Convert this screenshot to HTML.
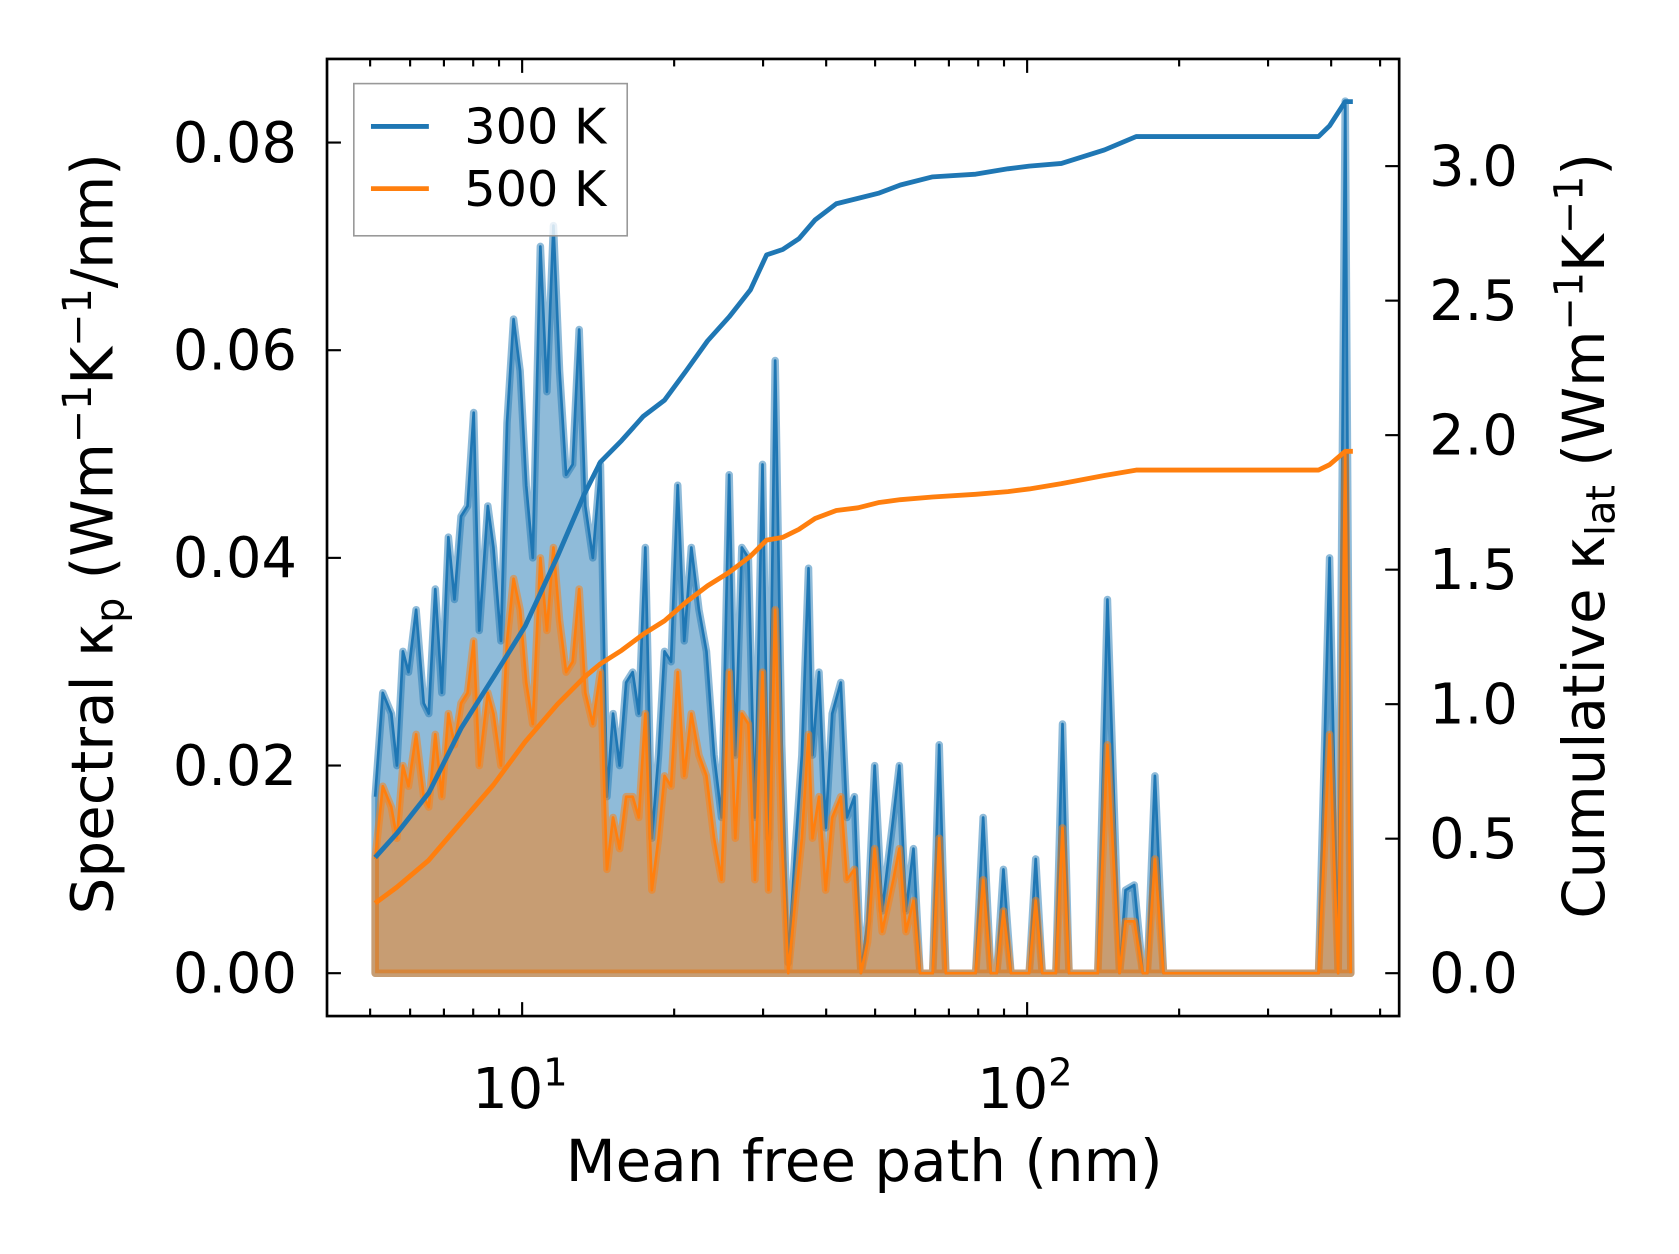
<!DOCTYPE html>
<html><head><meta charset="utf-8"><style>
html,body{margin:0;padding:0;background:#fff;}
svg{display:block;font-family:"DejaVu Sans","Liberation Sans",sans-serif;}
</style></head><body>
<svg id="chart" width="1679" height="1254" viewBox="0 0 1566 1170" preserveAspectRatio="none" xmlns="http://www.w3.org/2000/svg">
<g id="plot"></g>
<g id="axes"></g>
</svg>
<script>
const specLogMfp=[0.709,0.724,0.741,0.752,0.764,0.775,0.790,0.805,0.815,0.828,0.841,0.854,0.866,0.879,0.892,0.904,0.915,0.932,0.943,0.958,0.970,0.983,0.996,1.008,1.021,1.036,1.049,1.062,1.074,1.087,1.100,1.113,1.125,1.140,1.155,1.168,1.180,1.193,1.206,1.219,1.231,1.244,1.257,1.270,1.282,1.295,1.308,1.321,1.335,1.350,1.365,1.380,1.395,1.410,1.422,1.435,1.448,1.461,1.476,1.488,1.501,1.514,1.527,1.541,1.554,1.567,1.575,1.588,1.601,1.614,1.631,1.643,1.658,1.671,1.684,1.698,1.713,1.735,1.747,1.760,1.775,1.788,1.813,1.826,1.839,1.898,1.913,1.928,1.940,1.953,1.968,2.004,2.017,2.030,2.057,2.070,2.083,2.140,2.159,2.183,2.195,2.212,2.229,2.238,2.253,2.270,2.577,2.599,2.616,2.630,2.641];
const spec300=[.017,.027,.025,.020,.031,.029,.035,.026,.025,.037,.027,.042,.036,.044,.045,.054,.033,.045,.041,.032,.053,.063,.058,.047,.040,.070,.056,.072,.058,.048,.049,.062,.045,.040,.049,.017,.025,.020,.028,.029,.025,.041,.013,.021,.031,.030,.047,.032,.041,.035,.031,.021,.015,.048,.021,.041,.040,.015,.049,.013,.059,.022,.001,.012,.021,.039,.021,.029,.014,.025,.028,.015,.017,0,.005,.020,.006,.015,.020,.006,.012,0,0,.022,0,0,.015,0,0,.010,0,0,.011,0,0,.024,0,0,.036,0,.008,.0085,0,0,.019,0,0,.040,0,.084,0];
const spec500=[.011,.018,.016,.013,.020,.018,.023,.017,.016,.023,.017,.025,.022,.026,.027,.032,.020,.027,.025,.020,.032,.038,.035,.028,.024,.040,.033,.041,.034,.029,.030,.037,.027,.024,.029,.010,.015,.012,.017,.017,.015,.025,.008,.013,.019,.018,.029,.019,.025,.021,.019,.013,.009,.029,.013,.025,.024,.009,.029,.008,.035,.013,0,.007,.013,.023,.013,.017,.008,.015,.017,.009,.010,0,.003,.012,.004,.009,.012,.004,.007,0,0,.013,0,0,.009,0,0,.006,0,0,.007,0,0,.014,0,0,.022,0,.005,.005,0,0,.011,0,0,.023,0,.050,0];
const cumLogMfp=[0.709,0.752,0.815,0.879,0.943,1.006,1.070,1.123,1.155,1.197,1.240,1.282,1.325,1.367,1.410,1.452,1.484,1.516,1.548,1.580,1.622,1.665,1.707,1.749,1.813,1.898,1.962,2.004,2.068,2.153,2.216,2.577,2.599,2.630,2.645];
const cum300=[.43,.52,.67,.91,1.10,1.29,1.55,1.78,1.90,1.98,2.07,2.13,2.24,2.35,2.44,2.54,2.67,2.69,2.73,2.80,2.86,2.88,2.90,2.93,2.96,2.97,2.99,3.00,3.01,3.06,3.11,3.11,3.15,3.24,3.24];
const cum500=[.26,.32,.42,.56,.70,.86,1.00,1.10,1.15,1.20,1.26,1.31,1.38,1.44,1.49,1.55,1.61,1.62,1.65,1.69,1.72,1.73,1.75,1.76,1.77,1.78,1.79,1.80,1.82,1.85,1.87,1.87,1.89,1.94,1.94];
const leftTicks=[0,0.02,0.04,0.06,0.08];
const leftTickLabels=["0.00","0.02","0.04","0.06","0.08"];
const rightTicks=[0,0.5,1,1.5,2,2.5,3];
const rightTickLabels=["0.0","0.5","1.0","1.5","2.0","2.5","3.0"];

const NS="http://www.w3.org/2000/svg";
const AX={l:305,r:1305,t:55,b:948};
const xs=L=>487+(L-1)*471;
const yl=v=>908-v*9687.5;
const yr=v=>908-v*251;
const plot=document.getElementById('plot'), axes=document.getElementById('axes');
function mk(tag,attrs,parent){const e=document.createElementNS(NS,tag);for(const k in attrs)e.setAttribute(k,attrs[k]);parent.appendChild(e);return e;}
function pathOf(X,Y,fx,fy){return X.map((x,i)=>(i?'L':'M')+fx(x).toFixed(1)+','+fy(Y[i]).toFixed(1)).join('');}

function spectral(vals,color,name){
  const line=pathOf(specLogMfp,vals,xs,yl);
  const area=line+'L'+xs(specLogMfp[specLogMfp.length-1]).toFixed(1)+','+yl(0)+'L'+xs(specLogMfp[0]).toFixed(1)+','+yl(0)+'Z';
  const a=mk('path',{d:area,fill:color,'fill-opacity':0.5,stroke:color,'stroke-opacity':0.5,'stroke-width':7,'stroke-linejoin':'round'},plot);
  
  
  const l=mk('path',{d:line,fill:'none',stroke:color,'stroke-width':2.5,'stroke-linejoin':'round'},plot);
  
  
}
spectral(spec300,'#1f77b4','spectral-300k');
spectral(spec500,'#ff7f0e','spectral-500k');
const c3=mk('path',{d:pathOf(cumLogMfp,cum300,xs,yr),fill:'none',stroke:'#1f77b4','stroke-width':4.5,'stroke-linejoin':'round'},plot);


const c5=mk('path',{d:pathOf(cumLogMfp,cum500,xs,yr),fill:'none',stroke:'#ff7f0e','stroke-width':4.5,'stroke-linejoin':'round'},plot);



const fr=mk('rect',{x:AX.l,y:AX.t,width:AX.r-AX.l,height:AX.b-AX.t,fill:'none',stroke:'#000','stroke-width':2.5},axes);


for(let d=0;d<=2;d++){for(let m=1;m<=9;m++){const L=d+Math.log10(m);if(L<0.65||L>2.7)continue;const x=xs(L);const len=(m===1)?13:7;
  const t1=mk('line',{x1:x,x2:x,y1:AX.b,y2:AX.b-len,stroke:'#000','stroke-width':2},axes);
  
  
  const t2=mk('line',{x1:x,x2:x,y1:AX.t,y2:AX.t+len,stroke:'#000','stroke-width':2},axes);
  
  
  if(m===1){const tx=mk('text',{x:x-2,y:1034,'font-size':52,'text-anchor':'middle'},axes);tx.innerHTML='10<tspan dy="-21" font-size="36">'+d+'</tspan>';
    
    }
}}
leftTicks.forEach((v,i)=>{const y=yl(v);
  const t=mk('line',{x1:AX.l,x2:AX.l+13,y1:y,y2:y,stroke:'#000','stroke-width':2},axes);
  
  
  const tx=mk('text',{x:277,y:y+18,'font-size':52,'text-anchor':'end'},axes);tx.textContent=leftTickLabels[i];
  
  
});
rightTicks.forEach((v,i)=>{const y=yr(v);
  const t=mk('line',{x1:AX.r,x2:AX.r-13,y1:y,y2:y,stroke:'#000','stroke-width':2},axes);
  
  
  const tx=mk('text',{x:1333,y:y+18,'font-size':52,'text-anchor':'start'},axes);tx.textContent=rightTickLabels[i];
  
  
});
</script>
<svg style="position:absolute;left:0;top:0" width="1679" height="1254" viewBox="0 0 1566 1170" preserveAspectRatio="none" xmlns="http://www.w3.org/2000/svg" font-family="DejaVu Sans, Liberation Sans, sans-serif">
<text x="806" y="1102" font-size="54" text-anchor="middle">Mean free path (nm)</text>
<text transform="translate(105,498) rotate(-90)" font-size="54" text-anchor="middle">Spectral κ<tspan font-size="37" dy="10">p</tspan><tspan dy="-10"> (Wm</tspan><tspan font-size="37" dy="-20">−1</tspan><tspan dy="20">K</tspan><tspan font-size="37" dy="-20">−1</tspan><tspan dy="20">/nm)</tspan></text>
<text transform="translate(1496,500) rotate(-90)" font-size="54" text-anchor="middle">Cumulative κ<tspan font-size="37" dy="10">lat</tspan><tspan dy="-10"> (Wm</tspan><tspan font-size="37" dy="-20">−1</tspan><tspan dy="20">K</tspan><tspan font-size="37" dy="-20">−1</tspan><tspan dy="20">)</tspan></text>
<g>
<rect x="330" y="78" width="255" height="142" fill="#fff" fill-opacity="0.8" stroke="#999" stroke-width="1.5"/>
<line x1="346" x2="400" y1="118" y2="118" stroke="#1f77b4" stroke-width="4.5"/>
<text x="433" y="134" font-size="46">300 K</text>
<line x1="346" x2="400" y1="176" y2="176" stroke="#ff7f0e" stroke-width="4.5"/>
<text x="433" y="192" font-size="46">500 K</text>
</g>
</svg>
</body></html>
